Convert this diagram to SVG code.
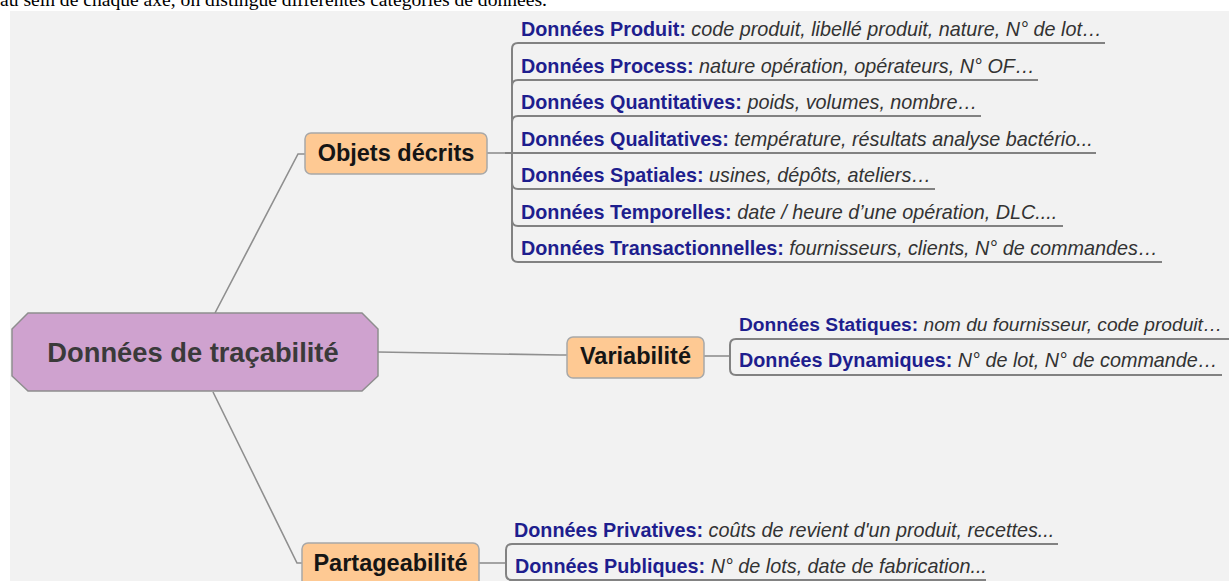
<svg xmlns="http://www.w3.org/2000/svg" width="1229" height="581" viewBox="0 0 1229 581">
<style>
.conn{fill:none;stroke:#8f8f8f;stroke-width:1.6}
.ul{fill:none;stroke:#828282;stroke-width:2}
.lab{font-family:"Liberation Sans",Arial,sans-serif;font-size:19.8px}
.b{font-weight:bold;fill:#1e1e8e}
.i{font-style:italic;fill:#333}
.nt{font-family:"Liberation Sans",Arial,sans-serif;font-weight:bold;font-size:23.5px;fill:#151515;text-anchor:middle}
.peach{fill:#fec993;stroke:#a8a8a8;stroke-width:1.5}
</style>
<rect x="0" y="0" width="1229" height="581" fill="#ffffff"/>
<text x="0" y="6" font-family="'Liberation Serif','Times New Roman',serif" font-size="19.6" fill="#000">au sein de chaque axe, on distingue différentes catégories de données.</text>
<rect x="10" y="11" width="1219" height="570" fill="#f2f2f2"/>

<g id="connectors">
<path class="conn" d="M215 313 L298 154 H305"/>
<path class="conn" d="M378 352 L560 355 H567"/>
<path class="conn" d="M213 392 L297 563 H302"/>
<path class="conn" d="M487 153 H512"/>
<path class="conn" d="M704 356 H730"/>
<path class="conn" d="M479 563 H506"/>
</g>

<g id="main">
<polygon points="28,313 362,313 378,329 378,376 362,391 28,391 12,376 12,329" fill="#cfa2cf" stroke="#8e8e8e" stroke-width="1.5"/>
<text x="193" y="362" font-family="'Liberation Sans',Arial,sans-serif" font-weight="bold" font-size="27.3" fill="#3a3a3a" text-anchor="middle">Données de traçabilité</text>
</g>

<g id="objets">
<rect class="peach" x="305" y="133" width="182" height="41" rx="6"/>
<text class="nt" x="396" y="161">Objets décrits</text>
</g>

<g id="objets-children">
<path class="ul" d="M512 49 V256"/>
<path class="ul" d="M512 49 Q512 43 518 43 H1105"/>
<path class="ul" d="M512 86 Q512 80 518 80 H1038"/>
<path class="ul" d="M512 122 Q512 116 518 116 H981"/>
<path class="ul" d="M505 153 H1096"/>
<path class="ul" d="M512 183 Q512 189 518 189 H935"/>
<path class="ul" d="M512 220 Q512 226 518 226 H1063"/>
<path class="ul" d="M512 256 Q512 262 518 262 H1162"/>
</g>
<g id="produit"><text class="lab" x="521" y="36"><tspan class="b">Données Produit:</tspan> <tspan class="i">code produit, libellé produit, nature, N° de lot…</tspan></text></g>
<g id="process"><text class="lab" x="521" y="73"><tspan class="b">Données Process:</tspan> <tspan class="i">nature opération, opérateurs, N° OF…</tspan></text></g>
<g id="quantitatives"><text class="lab" x="521" y="109"><tspan class="b">Données Quantitatives:</tspan> <tspan class="i">poids, volumes, nombre…</tspan></text></g>
<g id="qualitatives"><text class="lab" x="521" y="146"><tspan class="b">Données Qualitatives:</tspan> <tspan class="i">température, résultats analyse bactério...</tspan></text></g>
<g id="spatiales"><text class="lab" x="521" y="182"><tspan class="b">Données Spatiales:</tspan> <tspan class="i">usines, dépôts, ateliers…</tspan></text></g>
<g id="temporelles"><text class="lab" x="521" y="219"><tspan class="b">Données Temporelles:</tspan> <tspan class="i">date / heure d’une opération, DLC....</tspan></text></g>
<g id="transactionnelles"><text class="lab" x="521" y="255"><tspan class="b">Données Transactionnelles:</tspan> <tspan class="i">fournisseurs, clients, N° de commandes…</tspan></text></g>

<g id="variabilite">
<rect class="peach" x="567" y="337" width="137" height="41" rx="6"/>
<text class="nt" x="635.5" y="364">Variabilité</text>
</g>
<g id="variabilite-children">
<path class="ul" d="M730 345 V369"/>
<path class="ul" d="M730 345 Q730 339 736 339 H1229"/>
<path class="ul" d="M730 369 Q730 375 736 375 H1222"/>
</g>
<g id="statiques"><text class="lab" x="739" y="331" style="font-size:19.2px"><tspan class="b">Données Statiques:</tspan> <tspan class="i">nom du fournisseur, code produit…</tspan></text></g>
<g id="dynamiques"><text class="lab" x="739" y="367"><tspan class="b">Données Dynamiques:</tspan> <tspan class="i">N° de lot, N° de commande…</tspan></text></g>

<g id="partageabilite">
<rect class="peach" x="302" y="543" width="177" height="46" rx="6"/>
<text class="nt" x="390.5" y="571">Partageabilité</text>
</g>
<g id="partageabilite-children">
<path class="ul" d="M506 550 V574"/>
<path class="ul" d="M506 550 Q506 544 512 544 H1058"/>
<path class="ul" d="M506 574 Q506 580 512 580 H986"/>
</g>
<g id="privatives"><text class="lab" x="514" y="537"><tspan class="b">Données Privatives:</tspan> <tspan class="i">coûts de revient d'un produit, recettes...</tspan></text></g>
<g id="publiques"><text class="lab" x="515" y="573"><tspan class="b">Données Publiques:</tspan> <tspan class="i">N° de lots, date de fabrication...</tspan></text></g>
</svg>
